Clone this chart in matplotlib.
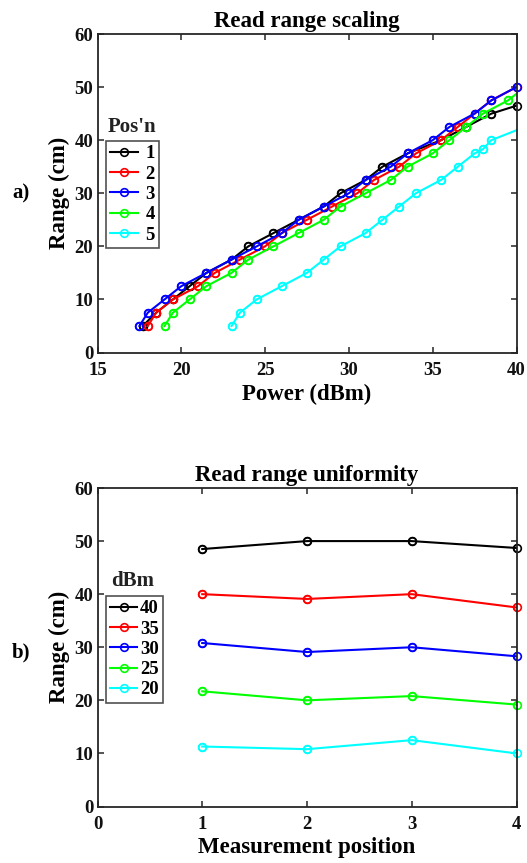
import numpy as np
import matplotlib
matplotlib.use("Agg")
import matplotlib.pyplot as plt

# top panel: range (cm) vs power (dBm) for each tag position
range_steps = [5, 7.5, 10, 12.5, 15, 17.5, 20, 22.5, 25, 27.5, 30, 32.5,
               35, 37.5, 40, 42.5, 45, 47.5, 50]
pos1_power = [17.7, 18.5, 19.5, 20.5, 21.5, 23, 24, 25.5, 27, 28.5, 29.5, 31,
              32, 33.5, 35.5, 37, 38.5, 40]
pos1_range = range_steps[:17] + [46.5]
pos2_power = [18, 18.5, 19.5, 21, 22, 23.5, 25, 26, 27.5, 29, 30.5, 31.5,
              33, 34, 35.5, 36.5, 37.5, 38.5, 40]
pos2_range = range_steps
pos3_power = [17.5, 18, 19, 20, 21.5, 23, 24.5, 26, 27, 28.5, 30, 31,
              32.5, 33.5, 35, 36, 37.5, 38.5, 40]
pos3_range = range_steps
pos4_power = [19, 19.5, 20.5, 21.5, 23, 24, 25.5, 27, 28.5, 29.5, 31, 32.5,
              33.5, 35, 36, 37, 38, 39.5, 40.5]
pos4_range = range_steps
pos5_power = [23, 23.5, 24.5, 26, 27.5, 28.5, 29.5, 31, 32, 33, 34, 35.5,
              36.5, 37.5, 38, 38.5, 40.5]
pos5_range = range_steps[:14] + [38.3, 40, 42.5]

pos_labels = ['1', '2', '3', '4', '5']

# bottom panel: range at each measurement position for fixed powers
positions = [1, 2, 3, 4]
dbm_labels = ['40', '35', '30', '25', '20']
range_40 = [48.5, 50, 50, 48.7]
range_35 = [40, 39.1, 40, 37.5]
range_30 = [30.8, 29.1, 30, 28.3]
range_25 = [21.7, 20, 20.8, 19.2]
range_20 = [11.3, 10.8, 12.5, 10]

colors = ['#000000', '#ff0000', '#0000ff', '#00ff00', '#00ffff']

plt.rcParams['font.family'] = ['Liberation Serif', 'DejaVu Serif']
plt.rcParams['font.weight'] = 'bold'

fig = plt.figure(figsize=(5.27, 8.63), dpi=100)
W, H = 527, 863


def make_axes(left, top, right, bottom):
    return fig.add_axes([left / W, 1 - bottom / H, (right - left) / W, (bottom - top) / H])


def style_axes(ax):
    for s in ax.spines.values():
        s.set_linewidth(1.3)
        s.set_color('#262626')
    ax.tick_params(direction='in', length=4, width=1.1, top=True, right=True,
                   labelsize=13.5, colors='#262626', labelcolor='#111111')
    ax.tick_params(axis='x', pad=7)
    ax.tick_params(axis='y', pad=3)
    for lab in ax.get_xticklabels() + ax.get_yticklabels():
        lab.set_fontweight('bold')


def draw_series(ax, x, y, c, label, xmax):
    x = np.asarray(x, float)
    y = np.asarray(y, float)
    line, = ax.plot(x, y, '-o', color=c, lw=1.5, ms=5.5, mfc='none', mew=1.2, label=label)
    inside = x <= xmax
    ax.plot(x[inside], y[inside], 'o', color=c, ms=5.5, mfc='none', mew=1.2, clip_on=False)
    return line


def add_legend(ax, labels_top, title, title_y, hlen, tpad):
    leg = ax.legend(loc='upper left', bbox_to_anchor=(0.02, labels_top), fontsize=13.5,
                    frameon=True, fancybox=False, edgecolor='#262626', handlelength=hlen,
                    handletextpad=tpad, borderpad=0.22, labelspacing=0.17, borderaxespad=0)
    leg.get_frame().set_linewidth(1.2)
    for t in leg.get_texts():
        t.set_fontweight('bold')
    ax.text(0.083, title_y, title, transform=ax.transAxes, ha='center', va='center',
            fontsize=15, fontweight='bold', color='#222222')


# ---- top panel ----
ax1 = make_axes(97.5, 34, 516.5, 352.5)
top_series = [(pos1_power, pos1_range), (pos2_power, pos2_range), (pos3_power, pos3_range),
              (pos4_power, pos4_range), (pos5_power, pos5_range)]
for (px, py), c, lab in zip(top_series, colors, pos_labels):
    draw_series(ax1, px, py, c, lab, 40)
ax1.set_xlim(15, 40)
ax1.set_ylim(0, 60)
ax1.set_xticks([15, 20, 25, 30, 35, 40])
ax1.set_yticks(range(0, 61, 10))
style_axes(ax1)
ax1.set_title('Read range scaling', fontsize=16.5, fontweight='bold', pad=5)
ax1.set_xlabel('Power (dBm)', fontsize=16.5, fontweight='bold', labelpad=3)
ax1.set_ylabel('Range (cm)', fontsize=16.5, fontweight='bold', labelpad=3)
add_legend(ax1, 0.664, "Pos'n", 0.708, 1.5, 0.4)
fig.text(12 / W, 1 - 193 / H, 'a)', fontsize=15, fontweight='bold', va='center')

# ---- bottom panel ----
ax2 = make_axes(97.5, 488, 516.5, 806.5)
bottom_series = [range_40, range_35, range_30, range_25, range_20]
for ys, c, lab in zip(bottom_series, colors, dbm_labels):
    draw_series(ax2, positions, ys, c, lab, 4)
ax2.set_xlim(0, 4)
ax2.set_ylim(0, 60)
ax2.set_xticks([0, 1, 2, 3, 4])
ax2.set_yticks(range(0, 61, 10))
style_axes(ax2)
ax2.set_title('Read range uniformity', fontsize=16.5, fontweight='bold', pad=5)
ax2.set_xlabel('Measurement position', fontsize=16.5, fontweight='bold', labelpad=3)
ax2.set_ylabel('Range (cm)', fontsize=16.5, fontweight='bold', labelpad=3)
add_legend(ax2, 0.661, 'dBm', 0.708, 1.45, 0.15)
fig.text(12 / W, 1 - 652 / H, 'b)', fontsize=15, fontweight='bold', va='center')

fig.savefig('out.png', dpi=100)
